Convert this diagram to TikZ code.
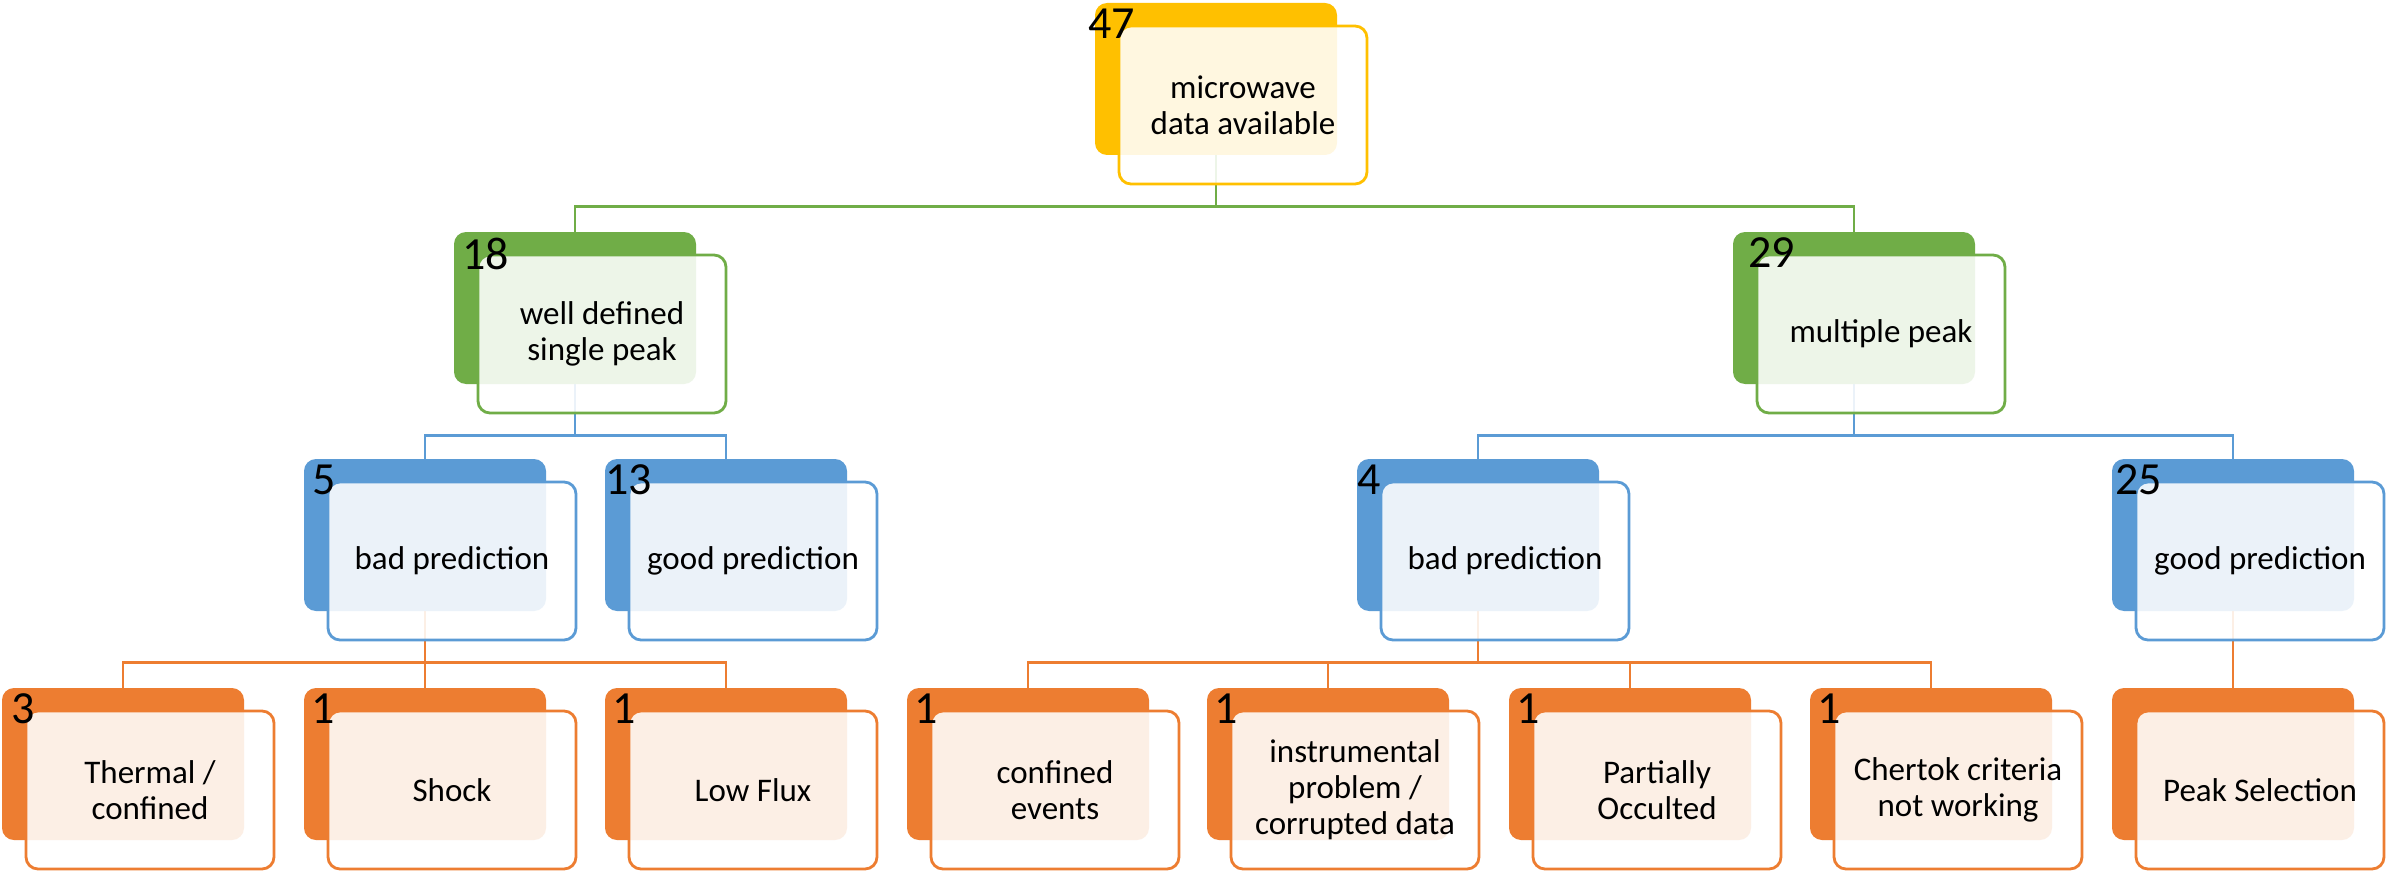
\documentclass[tikz,border=0pt]{standalone}
\usepackage{fontspec}
\setmainfont{Carlito}
\usetikzlibrary{backgrounds}
\definecolor{cgold}{HTML}{FFC000}
\definecolor{cgreen}{HTML}{70AD47}
\definecolor{cblue}{HTML}{5B9BD5}
\definecolor{corange}{HTML}{ED7D31}
\tikzset{
 backbox/.style={rectangle, rounded corners=12pt, minimum width=242pt, minimum height=152pt, inner sep=0pt, fill=#1},
 frontbox/.style={rectangle, rounded corners=12pt, minimum width=248pt, minimum height=158pt, inner sep=0pt, draw=#1, line width=2.8pt, fill=white, fill opacity=0.88, text opacity=1, align=center, font=\fontsize{33}{36}\selectfont},
 numlabel/.style={anchor=north west, inner sep=0pt, font=\fontsize{46}{46}\selectfont},
 conn/.style={draw=#1, line width=2.8pt},
}
\newcommand{\TreeBox}[7]{%
 \node[backbox=#4] (#1-b) at (#2+121,#3+76) {};
 \node[frontbox=#4] (#1) at (#2+148,#3+102) {#6};
 \node[numlabel] (#1-n) at (#2+#7,#3+5.5) {#5};
}
\begin{document}
\begin{tikzpicture}[x=1pt,y=-1pt]
\useasboundingbox (0,0) rectangle (2386,872);
% level 1
\TreeBox{top}{1095}{3}{cgold}{47}{microwave\\data available}{-7}
% level 2
\TreeBox{s18}{454}{232}{cgreen}{18}{well defined\\single peak}{8}
\TreeBox{m29}{1733}{232}{cgreen}{29}{multiple peak}{15}
% level 3
\TreeBox{b5}{304}{459}{cblue}{5}{bad prediction}{8}
\TreeBox{g13}{605}{459}{cblue}{13}{good prediction}{0}
\TreeBox{b4}{1357}{459}{cblue}{4}{bad prediction}{0}
\TreeBox{g25}{2112}{459}{cblue}{25}{good prediction}{3}
% level 4
\TreeBox{t3}{2}{688}{corange}{3}{Thermal /\\confined}{9}
\TreeBox{sh}{304}{688}{corange}{1}{Shock}{7}
\TreeBox{lf}{605}{688}{corange}{1}{Low Flux}{7}
\TreeBox{ce}{907}{688}{corange}{1}{confined\\events}{7}
\TreeBox{ip}{1207}{688}{corange}{1}{instrumental\\problem /\\corrupted data}{7}
\TreeBox{po}{1509}{688}{corange}{1}{Partially\\Occulted}{7}
\TreeBox{ch}{1810}{688}{corange}{1}{Chertok criteria\\not working}{7}
\TreeBox{ps}{2112}{688}{corange}{}{Peak Selection}{7}
\begin{scope}[on background layer]
\fill[white] (0,0) rectangle (2386,872);
\draw[conn=cgreen] (top-b.south) -- ++(0,51) -| (s18-b.north);
\draw[conn=cgreen] (top-b.south) -- ++(0,51) -| (m29-b.north);
\draw[conn=cblue] (s18-b.south) -- ++(0,51) -| (b5-b.north);
\draw[conn=cblue] (s18-b.south) -- ++(0,51) -| (g13-b.north);
\draw[conn=cblue] (m29-b.south) -- ++(0,51) -| (b4-b.north);
\draw[conn=cblue] (m29-b.south) -- ++(0,51) -| (g25-b.north);
\draw[conn=corange] (b5-b.south) -- ++(0,51) -| (t3-b.north);
\draw[conn=corange] (b5-b.south) -- ++(0,51) -| (sh-b.north);
\draw[conn=corange] (b5-b.south) -- ++(0,51) -| (lf-b.north);
\draw[conn=corange] (b4-b.south) -- ++(0,51) -| (ce-b.north);
\draw[conn=corange] (b4-b.south) -- ++(0,51) -| (ip-b.north);
\draw[conn=corange] (b4-b.south) -- ++(0,51) -| (po-b.north);
\draw[conn=corange] (b4-b.south) -- ++(0,51) -| (ch-b.north);
\draw[conn=corange] (g25-b.south) -- ++(0,51) -| (ps-b.north);
\end{scope}
\end{tikzpicture}
\end{document}
